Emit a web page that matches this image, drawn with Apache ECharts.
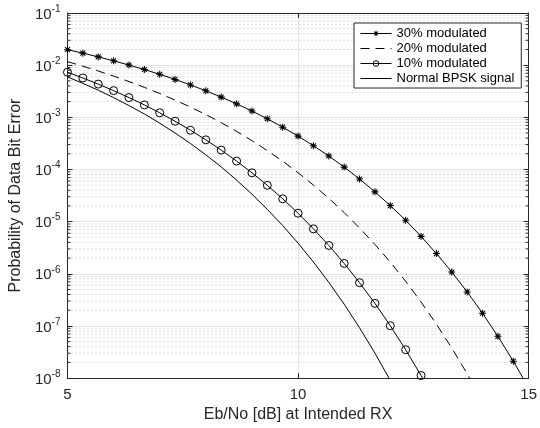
<!DOCTYPE html>
<html>
<head>
<meta charset="utf-8">
<script src="https://cdn.jsdelivr.net/npm/echarts@6/dist/echarts.min.js"></script>
<style>html,body{margin:0;padding:0;background:#fff}#c{width:540px;height:428px}</style>
</head>
<body>
<div id="c"></div>
<script>
// Eb/No values (dB) of the sampled points
const ebno = [5,5.333,5.667,6,6.333,6.667,7,7.333,7.667,8,8.333,8.667,9,9.333,9.667,10,10.333,10.667,11,11.333,11.667,12,12.333,12.667,13,13.333,13.667,14,14.333,14.667,15];
// Probability of data bit error
const ber30 = [1.98e-2,1.70e-2,1.44e-2,1.21e-2,1.005e-2,8.24e-3,6.68e-3,5.33e-3,4.18e-3,3.22e-3,2.44e-3,1.81e-3,1.32e-3,9.38e-4,6.47e-4,4.36e-4,2.85e-4,1.81e-4,1.11e-4,6.56e-5,3.72e-5,2.03e-5,1.06e-5,5.21e-6,2.44e-6,1.08e-6,4.49e-7,1.75e-7,6.32e-8,2.11e-8,6.47e-9];
const ber20 = [1.17e-2,9.56e-3,7.73e-3,6.17e-3,4.85e-3,3.76e-3,2.86e-3,2.14e-3,1.57e-3,1.13e-3,7.89e-4,5.39e-4,3.57e-4,2.30e-4,1.44e-4,8.66e-5,5.03e-5,2.80e-5,1.49e-5,7.55e-6,3.65e-6,1.67e-6,7.16e-7,2.88e-7,1.08e-7,3.77e-8,1.21e-8,3.56e-9];
const ber10 = [7.31e-3,5.68e-3,4.33e-3,3.25e-3,2.39e-3,1.73e-3,1.22e-3,8.41e-4,5.65e-4,3.70e-4,2.35e-4,1.45e-4,8.64e-5,4.97e-5,2.74e-5,1.45e-5,7.27e-6,3.49e-6,1.58e-6,6.75e-7,2.71e-7,1.01e-7,3.50e-8,1.12e-8,3.27e-9];
const berBpsk = [5.95e-3,4.48e-3,3.31e-3,2.39e-3,1.68e-3,1.16e-3,7.72e-4,5.00e-4,3.15e-4,1.91e-4,1.12e-4,6.25e-5,3.36e-5,1.72e-5,8.39e-6,3.87e-6,1.68e-6,6.85e-7,2.61e-7,9.22e-8,3.01e-8,8.99e-9];
const seriesNames = ['30% modulated','20% modulated','10% modulated','Normal BPSK signal'];
const xTicks = [5,10,15];
const yMin = 1e-8, yMax = 1e-1;

const FONT = "'Liberation Sans', Arial, Helvetica, sans-serif";
const AX = '#262626';
const STAR = 'path://M8.5 0L11.5 0L11.5 20L8.5 20Z M0 8.5L20 8.5L20 11.5L0 11.5Z M4.06 1.94L18.06 15.94L15.94 18.06L1.94 4.06Z M15.94 1.94L18.06 4.06L4.06 18.06L1.94 15.94Z';
const CLEAR = 'rgba(0,0,0,0)';

const pairs = arr => arr.map((v, i) => [ebno[i], v]);

// minor log grid positions (2..9 x each decade)
const minorVals = [];
for (let e = -8; e < -1; e++) for (let m = 2; m <= 9; m++) minorVals.push([xTicks[0], m * Math.pow(10, e)]);

const chart = echarts.init(document.getElementById('c'), null, {renderer: 'canvas'});
const axisCommon = {
  axisLine: {show: true, lineStyle: {color: AX, width: 1}},
  axisTick: {show: true, inside: true, length: 5, lineStyle: {color: AX, width: 1}},
};
chart.setOption({
  animation: false,
  backgroundColor: '#fff',
  grid: {left: 64, right: 9, top: 13, bottom: 49},
  legend: {
    data: seriesNames, orient: 'vertical', left: 354, top: 23,
    itemWidth: 31, itemHeight: 7, itemGap: 2,
    padding: [4, 7, 3, 6],
    backgroundColor: '#fff', borderColor: AX, borderWidth: 1,
    selectedMode: false,
    lineStyle: {width: 1},
    itemStyle: {borderWidth: 1},
    textStyle: {fontSize: 13, lineHeight: 13, color: '#000', fontFamily: FONT}
  },
  xAxis: [
    Object.assign({
      type: 'value', min: xTicks[0], max: xTicks[2], interval: 5, position: 'bottom',
      axisLabel: {margin: 9, fontSize: 15, color: AX, fontFamily: FONT},
      splitLine: {show: true, lineStyle: {color: '#e4e4e4', width: 1}},
      name: 'Eb/No [dB] at Intended RX', nameLocation: 'middle', nameGap: 27,
      nameTextStyle: {fontSize: 16, color: AX, fontFamily: FONT}
    }, axisCommon),
    Object.assign({
      type: 'value', min: xTicks[0], max: xTicks[2], interval: 5, position: 'top',
      axisLabel: {show: false}, splitLine: {show: false}
    }, axisCommon)
  ],
  yAxis: [
    Object.assign({
      type: 'log', logBase: 10, min: yMin, max: yMax, splitNumber: 7, position: 'left',
      axisLabel: {
        margin: 7,
        formatter: v => '{b|10}{s|' + Math.round(Math.log10(v)) + '}',
        rich: {
          b: {fontSize: 15, color: AX, fontFamily: FONT, padding: [3, 0, 0, 0]},
          s: {fontSize: 10, color: AX, fontFamily: FONT, verticalAlign: 'top', lineHeight: 10}
        }
      },
      splitLine: {show: true, lineStyle: {color: '#e4e4e4', width: 1}},
      name: 'Probability of Data Bit Error', nameLocation: 'middle', nameGap: 38,
      nameTextStyle: {fontSize: 16, color: AX, fontFamily: FONT}
    }, axisCommon),
    Object.assign({
      type: 'log', logBase: 10, min: yMin, max: yMax, splitNumber: 7, position: 'right',
      axisLabel: {show: false}, splitLine: {show: false}
    }, axisCommon)
  ],
  series: [
    {
      type: 'custom', name: 'minor', silent: true, z: 1, clip: false,
      xAxisIndex: 0, yAxisIndex: 0, data: minorVals, encode: {x: 0, y: 1},
      renderItem: (params, api) => {
        const v = api.value(1);
        const p0 = api.coord([xTicks[0], v]);
        const p1 = api.coord([xTicks[2], v]);
        return {type: 'group', children: [
          {type: 'line', shape: {x1: p0[0], y1: p0[1], x2: p1[0], y2: p1[1]}, style: {stroke: '#bdbdbd', lineWidth: 1, lineDash: [1, 3]}},
          {type: 'line', shape: {x1: p0[0], y1: p0[1], x2: p0[0] + 3, y2: p0[1]}, style: {stroke: AX, lineWidth: 1}},
          {type: 'line', shape: {x1: p1[0] - 3, y1: p1[1], x2: p1[0], y2: p1[1]}, style: {stroke: AX, lineWidth: 1}}
        ]};
      }
    },
    {
      name: seriesNames[0], type: 'line', data: pairs(ber30), z: 3,
      symbol: STAR, symbolSize: 7,
      lineStyle: {color: '#000', width: 1}, itemStyle: {color: '#000'},
      emphasis: {disabled: true}
    },
    {
      name: seriesNames[1], type: 'line', data: pairs(ber20), z: 3,
      symbol: 'none',
      lineStyle: {color: '#000', width: 1, type: [9, 6]}, itemStyle: {color: CLEAR, borderWidth: 0},
      emphasis: {disabled: true}
    },
    {
      name: seriesNames[2], type: 'line', data: pairs(ber10), z: 3,
      symbol: 'circle', symbolSize: 8,
      lineStyle: {color: '#000', width: 1},
      itemStyle: {color: CLEAR, borderColor: '#000', borderWidth: 1},
      emphasis: {disabled: true}
    },
    {
      name: seriesNames[3], type: 'line', data: pairs(berBpsk), z: 3,
      symbol: 'none',
      lineStyle: {color: '#000', width: 1}, itemStyle: {color: CLEAR, borderWidth: 0},
      emphasis: {disabled: true}
    }
  ]
});
</script>
</body>
</html>
